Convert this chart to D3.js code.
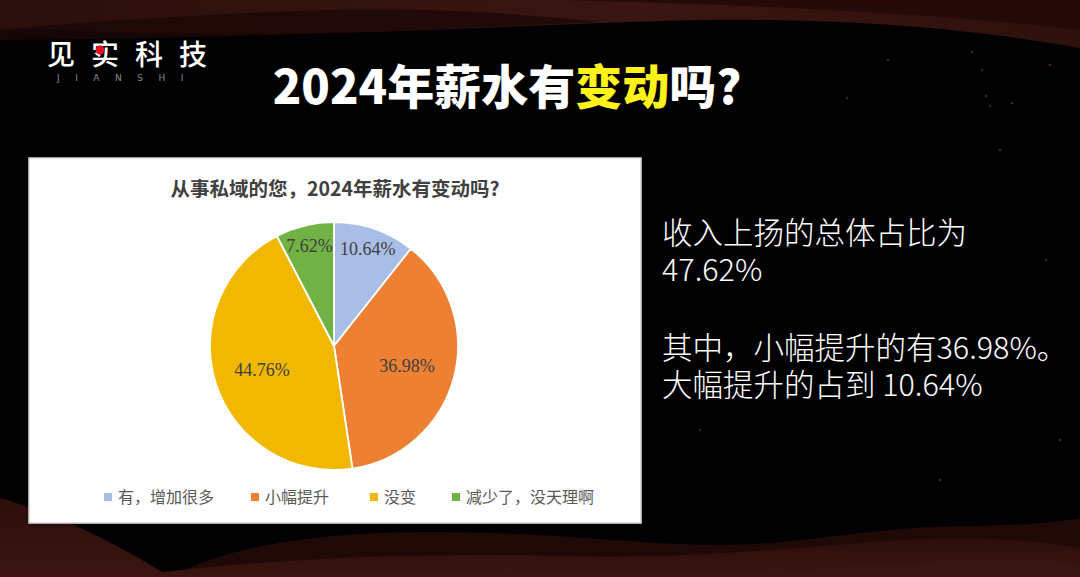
<!DOCTYPE html>
<html><head><meta charset="utf-8">
<script src="https://cdn.jsdelivr.net/npm/d3@7"></script>
<style>html,body{margin:0;padding:0;background:#000;overflow:hidden}</style>
</head><body>
<svg id="c" width="1080" height="577"></svg>
<script>
const categories = ["有，增加很多", "小幅提升", "没变", "减少了，没天理啊"];
const values = [10.64, 36.98, 44.76, 7.62];
const colors = ["#A9BEE6", "#EE8033", "#F2B800", "#72B143"];
const chartTitle = "从事私域的您，2024年薪水有变动吗?";
const headlineParts = [["2024年薪水有", "#ffffff"], ["变动", "#FFF11A"], ["吗?", "#ffffff"]];
const sideLines = ["收入上扬的总体占比为", "47.62%", "", "其中，小幅提升的有36.98%。", "大幅提升的占到 10.64%"];

const svg = d3.select("#c");
const W = 1080, H = 577;
const defs = svg.append("defs");

// background
svg.append("rect").attr("width", W).attr("height", H).attr("fill", "#020102");
const g1 = defs.append("linearGradient").attr("id","gt").attr("x1",0).attr("x2",1).attr("y1",0).attr("y2",0);
g1.append("stop").attr("offset","0%").attr("stop-color","#2a0f0c");
g1.append("stop").attr("offset","60%").attr("stop-color","#3a1511");
g1.append("stop").attr("offset","100%").attr("stop-color","#2e100d");
svg.append("path").attr("fill","url(#gt)")
  .attr("d","M0,0 L1080,0 L1080,48 C980,30 860,18 700,20 C520,24 300,40 120,32 C70,30 30,28 0,30 Z");
svg.append("path").attr("fill","#1c0806").attr("opacity",0.8)
  .attr("d","M0,30 C80,22 200,14 330,10 C450,8 520,14 600,22 C420,30 260,38 0,40 Z");
svg.append("path").attr("fill","#220a08").attr("opacity",0.9)
  .attr("d","M560,0 L1080,0 L1080,30 C950,15 800,6 560,0 Z");

const gb = defs.append("linearGradient").attr("id","gb").attr("x1",0).attr("x2",0).attr("y1",0).attr("y2",1);
gb.append("stop").attr("offset","0%").attr("stop-color","#2c0e0b");
gb.append("stop").attr("offset","100%").attr("stop-color","#3a1410");
svg.append("path").attr("fill","url(#gb)")
  .attr("d","M0,498 C60,515 120,545 170,577 L0,577 Z");
svg.append("path").attr("fill","#1e0907")
  .attr("d","M170,577 C230,545 320,532 430,532 C560,532 640,545 720,545 C800,545 860,528 960,526 C1020,526 1060,522 1080,518 L1080,577 Z");
svg.append("path").attr("fill","url(#gb)")
  .attr("d","M120,577 C250,560 400,552 560,556 C700,560 820,545 900,540 C980,536 1040,540 1080,548 L1080,577 Z");
svg.append("path").attr("fill","#3b1511").attr("opacity",0.6)
  .attr("d","M760,577 C880,560 980,556 1080,562 L1080,577 Z");

// decorative dots
const dots = [[972,52],[982,70],[1050,65],[986,96],[990,106],[1012,103],[847,98],[888,60],[1046,260],[1000,150],[940,480],[1060,440],[700,430]];
svg.selectAll("circle.dot").data(dots).join("circle").attr("class","dot")
  .attr("cx",d=>d[0]).attr("cy",d=>d[1]).attr("r",1.3).attr("fill","#6a2430").attr("opacity",0.7);

// logo
svg.append("text").attr("x",47).attr("y",65).attr("fill","#fff")
  .attr("font-family","'Noto Sans CJK SC'").attr("font-size",28).attr("font-weight",500)
  .attr("letter-spacing",16).text("见实科技");
svg.append("circle").attr("cx",100).attr("cy",50).attr("r",4.5).attr("fill","#e0141e");
svg.append("text").attr("x",57).attr("y",81).attr("fill","#8a8a8a")
  .attr("font-family","'DejaVu Sans'").attr("font-size",9).attr("letter-spacing",15.5).text("JIANSHI");

// headline
const hl = svg.append("text").attr("x",507).attr("y",104).attr("text-anchor","middle")
  .attr("font-family","'Noto Sans CJK SC'").attr("font-size",47).attr("font-weight",900);
headlineParts.forEach(p => hl.append("tspan").attr("fill",p[1]).text(p[0]));

// card
const fs = defs.append("filter").attr("id","sh").attr("x","-5%").attr("y","-5%").attr("width","110%").attr("height","110%");
fs.append("feDropShadow").attr("dx",1).attr("dy",1).attr("stdDeviation",1.2).attr("flood-color","#000").attr("flood-opacity",0.5);
svg.append("rect").attr("x",29).attr("y",158).attr("width",612).attr("height",365)
  .attr("fill","#fefefe").attr("stroke","#d4d4d4").attr("stroke-width",1.5).attr("filter","url(#sh)");

svg.append("text").attr("x",335).attr("y",189).attr("text-anchor","middle").attr("dy","0.36em")
  .attr("fill","#404040").attr("font-family","'Noto Sans CJK SC'").attr("font-size",19.5).attr("font-weight",700)
  .text(chartTitle);

// pie
const cx = 334, cy = 346, R = 124;
const pie = d3.pie().sort(null).value(d=>d).startAngle(0).endAngle(2*Math.PI);
const arcs = pie(values);
const arc = d3.arc().innerRadius(0).outerRadius(R);
const color = d3.scaleOrdinal().domain(categories).range(colors);
const pg = svg.append("g").attr("transform",`translate(${cx},${cy})`);
pg.selectAll("path").data(arcs).join("path")
  .attr("d",arc).attr("fill",(d,i)=>color(categories[i]))
  .attr("stroke","#fff").attr("stroke-width",1.8).attr("stroke-linejoin","round");
const fmt = d => d.toFixed(2) + "%";
pg.selectAll("text").data(arcs).join("text")
  .attr("transform", d => {
    const r = (d.value < 15 ? 0.83 : 0.61) * R;
    const a = (d.startAngle + d.endAngle)/2;
    return `translate(${r*Math.sin(a)},${-r*Math.cos(a)})`;
  })
  .attr("text-anchor","middle").attr("dy","0.35em")
  .attr("fill","#404040").attr("font-family","'Liberation Serif'").attr("font-size",18)
  .text(d => fmt(d.value));

// legend
const legX = [104, 251, 370, 452];
const lg = svg.append("g").selectAll("g").data(categories).join("g")
  .attr("transform",(d,i)=>`translate(${legX[i]},497)`);
lg.append("rect").attr("x",0).attr("y",-4).attr("width",8).attr("height",8).attr("fill",d=>color(d));
lg.append("text").attr("x",14).attr("y",0).attr("dy","0.36em")
  .attr("fill","#595959").attr("font-family","'Noto Sans CJK SC'").attr("font-size",16)
  .text(d=>d);

// side text
const st = svg.append("g");
const lineY = [233, 270, 0, 348, 385];
sideLines.forEach((t,i) => {
  if (!t) return;
  st.append("text").attr("x",662).attr("y",lineY[i]).attr("dy","0.36em")
    .attr("fill","#ffffff").attr("font-family","'Noto Sans CJK SC'").attr("font-size",30.5).attr("font-weight",300)
    .text(t);
});
</script>
</body></html>
